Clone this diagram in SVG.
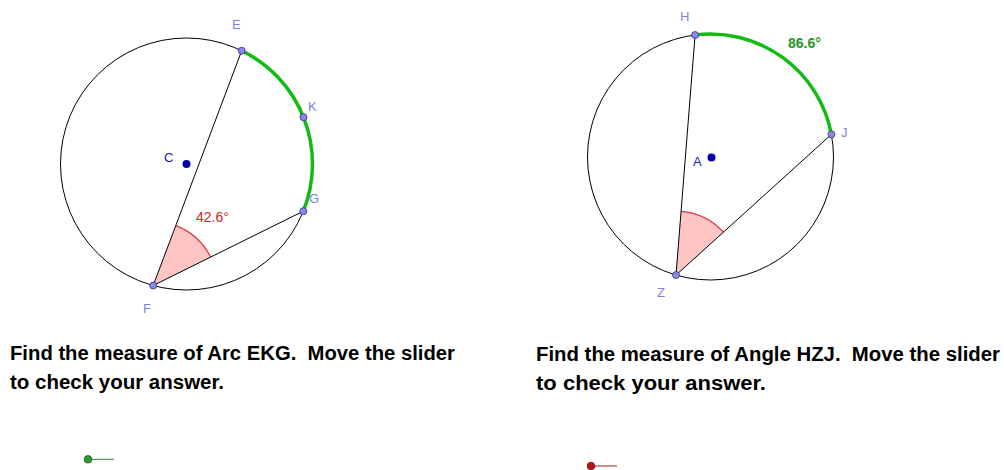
<svg xmlns="http://www.w3.org/2000/svg" width="1004" height="470" viewBox="0 0 1004 470">
<style>
.circ{fill:none;stroke:#000;stroke-width:1}
.seg{stroke:#000;stroke-width:1;fill:none}
.arcg{fill:none;stroke:#11bb11;stroke-width:3.5;stroke-linecap:butt}
.sector{fill:#ffc4c4;stroke:none}
.sarc{fill:none;stroke:#dd3333;stroke-width:1.2}
.pt{fill:#8888ee;stroke:#333366;stroke-width:0.8}
.ctr{fill:#0000aa}
.lbl{font-family:"Liberation Sans",Arial,sans-serif;font-size:13px;fill:#8080dd}
.clbl{font-family:"Liberation Sans",Arial,sans-serif;font-size:13px;fill:#1a1aaa}
.ang{font-family:"Liberation Sans",Arial,sans-serif;font-size:14px;fill:#dd2222}
.arcl{font-family:"Liberation Sans",Arial,sans-serif;font-size:14px;font-weight:bold;fill:#22991f}
.txt{font-family:"Liberation Sans",Arial,sans-serif;font-size:20px;font-weight:bold;fill:#000;white-space:pre}
</style>
<g id="left-figure">
  <circle class="circ" cx="186.5" cy="164" r="126"/>
  <path class="sector" d="M153.2 285.5 L175.8 225.6 A64 64 0 0 1 210.6 257.1 Z"/>
  <path class="sarc" d="M175.8 225.6 A64 64 0 0 1 210.6 257.1"/>
  <path class="arcg" d="M241.7 50.7 A126 126 0 0 1 303.3 211.2"/>
  <line class="seg" x1="153.2" y1="285.5" x2="241.7" y2="50.7"/>
  <line class="seg" x1="153.2" y1="285.5" x2="303.3" y2="211.2"/>
  <text class="ang" x="196" y="222">42.6°</text>
</g>
<g id="point-C"><circle class="ctr" cx="186.5" cy="164" r="4"/><text class="clbl" x="164" y="162">C</text></g>
<g id="point-E"><circle class="pt" cx="241.7" cy="50.7" r="3.5"/><text class="lbl" x="232" y="29">E</text></g>
<g id="point-K"><circle class="pt" cx="303.5" cy="117.2" r="3.5"/><text class="lbl" x="308" y="111">K</text></g>
<g id="point-G"><circle class="pt" cx="303.3" cy="211.2" r="3.5"/><text class="lbl" x="309" y="203">G</text></g>
<g id="point-F"><circle class="pt" cx="153.2" cy="285.5" r="3.5"/><text class="lbl" x="143" y="313">F</text></g>

<g id="right-figure">
  <circle class="circ" cx="710.5" cy="157" r="123"/>
  <path class="sector" d="M676 275.1 L681.1 211.3 A64 64 0 0 1 723.4 232.1 Z"/>
  <path class="sarc" d="M681.1 211.3 A64 64 0 0 1 723.4 232.1"/>
  <path class="arcg" d="M695.1 35 A123 123 0 0 1 831.4 134.4"/>
  <line class="seg" x1="676" y1="275.1" x2="695.1" y2="35"/>
  <line class="seg" x1="676" y1="275.1" x2="831.4" y2="134.4"/>
  <text class="arcl" x="788" y="48">86.6°</text>
</g>
<g id="point-A"><circle class="ctr" cx="711.5" cy="157.5" r="4"/><text class="clbl" x="693" y="166">A</text></g>
<g id="point-H"><circle class="pt" cx="695.1" cy="35" r="3.5"/><text class="lbl" x="680" y="21">H</text></g>
<g id="point-J"><circle class="pt" cx="831.4" cy="134.4" r="3.5"/><text class="lbl" x="841" y="137">J</text></g>
<g id="point-Z"><circle class="pt" cx="676" cy="275.1" r="3.5"/><text class="lbl" x="657" y="297">Z</text></g>

<g id="text-left">
  <text class="txt" x="10" y="360" textLength="445" lengthAdjust="spacingAndGlyphs">Find the measure of Arc EKG.  Move the slider</text>
  <text class="txt" x="10" y="389" textLength="214" lengthAdjust="spacingAndGlyphs">to check your answer.</text>
</g>
<g id="text-right">
  <text class="txt" x="536" y="361" textLength="464" lengthAdjust="spacingAndGlyphs">Find the measure of Angle HZJ.  Move the slider</text>
  <text class="txt" x="536" y="390" textLength="230" lengthAdjust="spacingAndGlyphs">to check your answer.</text>
</g>
<g id="slider-left">
  <line x1="88" y1="459.3" x2="114" y2="459.3" stroke="#338833" stroke-width="1"/>
  <circle cx="88" cy="459.3" r="3.8" fill="#33992f" stroke="#1a5a1a" stroke-width="0.8"/>
</g>
<g id="slider-right">
  <line x1="591" y1="466" x2="617" y2="466" stroke="#992222" stroke-width="1"/>
  <circle cx="591" cy="466" r="3.8" fill="#bb1111" stroke="#661111" stroke-width="0.8"/>
</g>
</svg>
